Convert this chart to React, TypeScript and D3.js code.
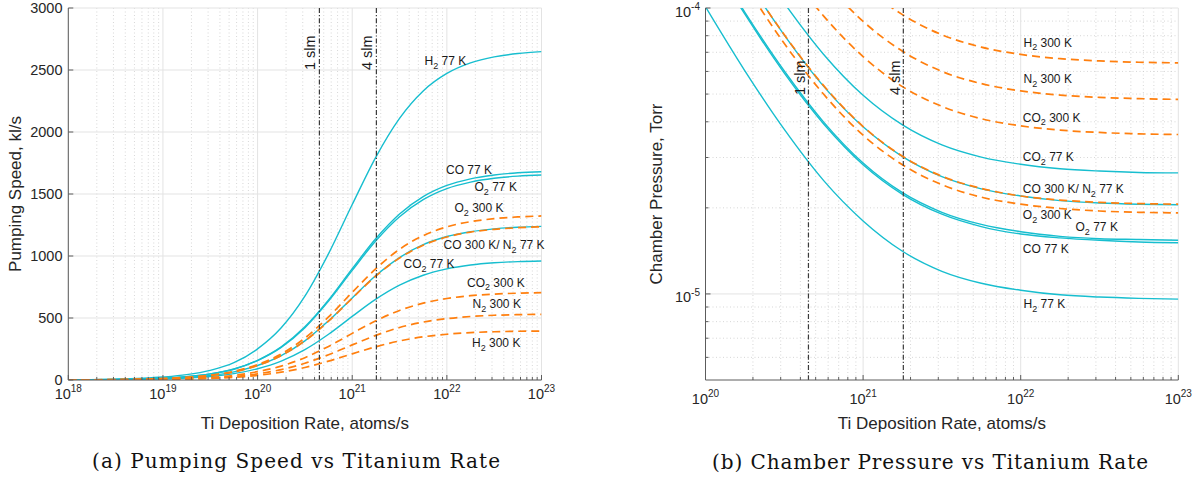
import React from 'react';
import * as d3 from 'd3';

// Ti deposition rate samples, atoms/s
const ratesA = [1e18, 3.162e18, 1e19, 1.778e19, 3.162e19, 5.623e19, 1e20, 1.778e20, 3.162e20, 5.623e20,
  1e21, 1.778e21, 3.162e21, 5.623e21, 1e22, 1.778e22, 3.162e22, 5.623e22, 1e23];
const ratesB = [1e20, 1.778e20, 3.162e20, 5.623e20, 1e21, 1.778e21, 3.162e21, 5.623e21, 1e22, 1.778e22,
  3.162e22, 5.623e22, 1e23];

// (a) pumping speed, kl/s
const speedH2_77 = [2, 7, 24, 43, 78, 140, 251, 421, 676, 1019, 1415, 1798, 2110, 2331, 2472, 2557, 2606, 2633, 2648];
const speedCO_77 = [1, 5, 15, 27, 49, 89, 159, 267, 429, 646, 898, 1141, 1339, 1479, 1569, 1622, 1653, 1671, 1680];
const speedO2_77 = [1, 4, 15, 27, 49, 87, 157, 263, 422, 636, 884, 1123, 1317, 1455, 1544, 1596, 1627, 1644, 1653];
const speedN2_77 = [1, 3, 11, 20, 36, 66, 117, 197, 316, 477, 662, 842, 987, 1091, 1157, 1196, 1219, 1232, 1239];
const speedCO2_77 = [1, 3, 9, 16, 28, 51, 91, 153, 245, 369, 513, 652, 765, 845, 896, 927, 945, 955, 960];
const speedO2_300 = [1, 4, 12, 22, 39, 70, 125, 210, 338, 509, 707, 898, 1054, 1164, 1235, 1277, 1301, 1315, 1323];
const speedCO_300 = [1, 3, 11, 20, 36, 65, 117, 197, 315, 475, 660, 839, 984, 1087, 1153, 1193, 1215, 1228, 1235];
const speedCO2_300 = [1, 2, 6, 11, 21, 37, 67, 112, 180, 271, 376, 478, 561, 620, 657, 680, 693, 700, 704];
const speedN2_300 = [0, 1, 5, 9, 16, 28, 50, 84, 135, 204, 283, 360, 423, 467, 495, 512, 522, 527, 530];
const speedH2_300 = [0, 1, 4, 6, 12, 21, 37, 63, 101, 152, 211, 268, 315, 348, 369, 382, 389, 393, 395];

// (b) chamber pressure, Torr
const presH2_77 = [1.01e-4, 6.03e-5, 3.76e-5, 2.49e-5, 1.80e-5, 1.41e-5, 1.20e-5, 1.09e-5, 1.03e-5, 9.93e-6, 9.75e-6, 9.65e-6, 9.59e-6];
const presCO_77 = [1.60e-4, 9.51e-5, 5.92e-5, 3.93e-5, 2.83e-5, 2.23e-5, 1.90e-5, 1.72e-5, 1.62e-5, 1.57e-5, 1.54e-5, 1.52e-5, 1.51e-5];
const presO2_77 = [1.62e-4, 9.66e-5, 6.02e-5, 3.99e-5, 2.87e-5, 2.26e-5, 1.93e-5, 1.75e-5, 1.65e-5, 1.59e-5, 1.56e-5, 1.55e-5, 1.54e-5];
const presN2_77 = [2.17e-4, 1.29e-4, 8.04e-5, 5.32e-5, 3.84e-5, 3.02e-5, 2.57e-5, 2.33e-5, 2.20e-5, 2.12e-5, 2.08e-5, 2.06e-5, 2.05e-5];
const presCO2_77 = [2.79e-4, 1.66e-4, 1.04e-4, 6.88e-5, 4.95e-5, 3.90e-5, 3.32e-5, 3.01e-5, 2.84e-5, 2.74e-5, 2.69e-5, 2.66e-5, 2.65e-5];
const presO2_300 = [2.03e-4, 1.21e-4, 7.51e-5, 4.99e-5, 3.59e-5, 2.83e-5, 2.41e-5, 2.18e-5, 2.06e-5, 1.99e-5, 1.95e-5, 1.93e-5, 1.92e-5];
const presCO_300 = [2.17e-4, 1.29e-4, 8.06e-5, 5.35e-5, 3.85e-5, 3.03e-5, 2.58e-5, 2.34e-5, 2.20e-5, 2.13e-5, 2.09e-5, 2.07e-5, 2.06e-5];
const presCO2_300 = [3.79e-4, 2.27e-4, 1.41e-4, 9.37e-5, 6.76e-5, 5.31e-5, 4.53e-5, 4.10e-5, 3.87e-5, 3.74e-5, 3.67e-5, 3.63e-5, 3.61e-5];
const presN2_300 = [5.08e-4, 3.02e-4, 1.88e-4, 1.25e-4, 8.98e-5, 7.06e-5, 6.00e-5, 5.44e-5, 5.13e-5, 4.96e-5, 4.87e-5, 4.82e-5, 4.79e-5];
const presH2_300 = [6.86e-4, 4.03e-4, 2.52e-4, 1.67e-4, 1.20e-4, 9.48e-5, 8.06e-5, 7.30e-5, 6.88e-5, 6.65e-5, 6.53e-5, 6.46e-5, 6.43e-5];

// ticks
const xTicksA = [1e18, 1e19, 1e20, 1e21, 1e22, 1e23];
const yTicksA = [0, 500, 1000, 1500, 2000, 2500, 3000];
const xTicksB = [1e20, 1e21, 1e22, 1e23];
const yTicksB = [1e-5, 1e-4];

// flow markers
const slmRates = [4.5e20, 1.8e21];
const slmLabels = ['1 slm', '4 slm'];

const CYAN = '#17becf';
const ORANGE = '#ff7f0e';
const SANS = "'Liberation Sans', Arial, Helvetica, sans-serif";
const SERIF = "'DejaVu Serif', 'Liberation Serif', serif";

const seriesA = [
  { v: speedH2_77, hot: false }, { v: speedCO_77, hot: false }, { v: speedO2_77, hot: false },
  { v: speedN2_77, hot: false }, { v: speedCO2_77, hot: false },
  { v: speedO2_300, hot: true }, { v: speedCO_300, hot: true }, { v: speedCO2_300, hot: true },
  { v: speedN2_300, hot: true }, { v: speedH2_300, hot: true },
];
const seriesB = [
  { v: presH2_77, hot: false }, { v: presCO_77, hot: false }, { v: presO2_77, hot: false },
  { v: presN2_77, hot: false }, { v: presCO2_77, hot: false },
  { v: presO2_300, hot: true }, { v: presCO_300, hot: true }, { v: presCO2_300, hot: true },
  { v: presN2_300, hot: true }, { v: presH2_300, hot: true },
];

type Seg = [string, number?];
const H2_77: Seg[] = [['H'], ['2', 1], [' 77 K']];
const CO_77: Seg[] = [['CO 77 K']];
const O2_77: Seg[] = [['O'], ['2', 1], [' 77 K']];
const O2_300: Seg[] = [['O'], ['2', 1], [' 300 K']];
const CO_N2: Seg[] = [['CO 300 K/ N'], ['2', 1], [' 77 K']];
const CO2_77: Seg[] = [['CO'], ['2', 1], [' 77 K']];
const CO2_300: Seg[] = [['CO'], ['2', 1], [' 300 K']];
const N2_300: Seg[] = [['N'], ['2', 1], [' 300 K']];
const H2_300: Seg[] = [['H'], ['2', 1], [' 300 K']];

const minorLog = (lo: number, hi: number) => {
  const out: number[] = [];
  for (let e = lo; e < hi; e++) for (let k = 2; k <= 9; k++) out.push(k * Math.pow(10, e));
  return out;
};

const Label = ({ segs, x, y }: { segs: Seg[]; x: number; y: number }) => {
  let shift = 0;
  return (
    <text x={x} y={y} fontSize={12} fill="#1a1a1a" fontFamily={SANS}>
      {segs.map(([s, sub], i) => {
        const target = sub ? 3.5 : 0;
        const dy = target - shift;
        shift = target;
        return (
          <tspan key={i} dy={dy} fontSize={sub ? 9 : 12}>{s}</tspan>
        );
      })}
    </text>
  );
};

const GRID = '#e3e3e3';
const MINOR = '#cdcdcd';
const AXIS = '#5c5c5c';
const TXT = '#262626';

export default function App() {
  const xA = d3.scaleLog().domain([1e18, 1e23]).range([68.3, 541.5]);
  const yA = d3.scaleLinear().domain([0, 3000]).range([380, 8]);
  const xB = d3.scaleLog().domain([1e20, 1e23]).range([705.5, 1178.3]);
  const yB = d3.scaleLog().domain([5e-6, 1e-4]).range([380, 8]);

  const lineA = d3.line<number>().x((_, i) => xA(ratesA[i])).y((d) => yA(d)).curve(d3.curveMonotoneX);
  const lineB = d3.line<number>().x((_, i) => xB(ratesB[i])).y((d) => yB(d)).curve(d3.curveMonotoneX);

  const [a0, a1] = xA.range();
  const [b0, b1] = xB.range();
  const top = 8, bot = 380;

  const minorXA = minorLog(18, 23);
  const minorXB = minorLog(20, 23);
  const minorYB = minorLog(-6, -4).filter((v) => v > 5e-6);

  const ordered = <T extends { hot: boolean }>(s: T[]) => [...s.filter((d) => !d.hot), ...s.filter((d) => d.hot)];

  return (
    <svg width={1199} height={480} style={{ position: 'absolute', left: 0, top: 0, background: '#fff' }}>
      <defs>
        <clipPath id="clipA"><rect x={a0} y={top} width={a1 - a0} height={bot - top} /></clipPath>
        <clipPath id="clipB"><rect x={b0} y={top} width={b1 - b0} height={bot - top} /></clipPath>
      </defs>

      {/* ---------- panel (a) ---------- */}
      <g>
        {minorXA.map((v) => (
          <line key={'ma' + v} x1={xA(v)} x2={xA(v)} y1={top} y2={bot} stroke={MINOR} strokeWidth={0.8} strokeDasharray="1,2.5" />
        ))}
        {xTicksA.map((v) => (
          <line key={'ga' + v} x1={xA(v)} x2={xA(v)} y1={top} y2={bot} stroke={GRID} strokeWidth={1} />
        ))}
        {yTicksA.map((v) => (
          <line key={'gya' + v} x1={a0} x2={a1} y1={yA(v)} y2={yA(v)} stroke={GRID} strokeWidth={1} />
        ))}

        <g clipPath="url(#clipA)">
          {ordered(seriesA).map((s, i) => (
            <path key={i} d={lineA(s.v) || ''} fill="none" stroke={s.hot ? ORANGE : CYAN}
              strokeWidth={s.hot ? 1.7 : 1.4} strokeDasharray={s.hot ? '8,5' : undefined} />
          ))}
        </g>

        {slmRates.map((r) => (
          <line key={'sa' + r} x1={xA(r)} x2={xA(r)} y1={top} y2={bot} stroke="#3a3a3a" strokeWidth={1.2} strokeDasharray="5,2,1.2,2" />
        ))}
        {slmRates.map((r, i) => (
          <text key={'sla' + r} transform={`translate(${xA(r) - 4.5},70) rotate(-90)`} fontSize={14.5} fill="#1a1a1a" fontFamily={SANS}>
            {slmLabels[i]}
          </text>
        ))}

        <Label segs={H2_77} x={424.5} y={65} />
        <Label segs={CO_77} x={446} y={173.5} />
        <Label segs={O2_77} x={474.5} y={191} />
        <Label segs={O2_300} x={454.5} y={212.3} />
        <Label segs={CO_N2} x={443.5} y={249} />
        <Label segs={CO2_77} x={403.5} y={268.3} />
        <Label segs={CO2_300} x={467} y={286.7} />
        <Label segs={N2_300} x={472.5} y={308.3} />
        <Label segs={H2_300} x={472} y={347.3} />

        {/* axes */}
        <line x1={a0} x2={a0} y1={top} y2={bot} stroke={AXIS} strokeWidth={1} />
        <line x1={a0} x2={a1} y1={bot} y2={bot} stroke={AXIS} strokeWidth={1} />
        {yTicksA.map((v) => (
          <g key={'ty' + v}>
            <line x1={a0} x2={a0 + 5} y1={yA(v)} y2={yA(v)} stroke={AXIS} />
            <text x={62.5} y={yA(v) + 5.3} textAnchor="end" fontSize={14.5} fill={TXT} fontFamily={SANS}>{v}</text>
          </g>
        ))}
        {minorXA.map((v) => (
          <line key={'tma' + v} x1={xA(v)} x2={xA(v)} y1={bot} y2={bot - 3} stroke={AXIS} />
        ))}
        {xTicksA.map((v) => (
          <g key={'tx' + v}>
            <line x1={xA(v)} x2={xA(v)} y1={bot} y2={bot - 5} stroke={AXIS} />
            <text x={xA(v)} y={399} textAnchor="middle" fontSize={14.5} fill={TXT} fontFamily={SANS}>
              10<tspan dy={-7} fontSize={10}>{Math.round(Math.log10(v))}</tspan>
            </text>
          </g>
        ))}
        <text x={(a0 + a1) / 2} y={429} textAnchor="middle" fontSize={17} fill={TXT} fontFamily={SANS}>
          Ti Deposition Rate, atoms/s
        </text>
        <text transform={`translate(20.5,${(top + bot) / 2}) rotate(-90)`} textAnchor="middle" fontSize={17} fill={TXT} fontFamily={SANS}>
          Pumping Speed, kl/s
        </text>
        <text x={296} y={468} textAnchor="middle" fontSize={20} fill="#111" fontFamily={SERIF}
          textLength={408} lengthAdjust="spacing">
          (a) Pumping Speed vs Titanium Rate
        </text>
      </g>

      {/* ---------- panel (b) ---------- */}
      <g>
        {minorXB.map((v) => (
          <line key={'mb' + v} x1={xB(v)} x2={xB(v)} y1={top} y2={bot} stroke={MINOR} strokeWidth={0.8} strokeDasharray="1,2.5" />
        ))}
        {minorYB.map((v) => (
          <line key={'myb' + v} x1={b0} x2={b1} y1={yB(v)} y2={yB(v)} stroke={MINOR} strokeWidth={0.8} strokeDasharray="1,2.5" />
        ))}
        {xTicksB.map((v) => (
          <line key={'gb' + v} x1={xB(v)} x2={xB(v)} y1={top} y2={bot} stroke={GRID} strokeWidth={1} />
        ))}
        {yTicksB.map((v) => (
          <line key={'gyb' + v} x1={b0} x2={b1} y1={yB(v)} y2={yB(v)} stroke={GRID} strokeWidth={1} />
        ))}

        <g clipPath="url(#clipB)">
          {ordered(seriesB).map((s, i) => (
            <path key={i} d={lineB(s.v) || ''} fill="none" stroke={s.hot ? ORANGE : CYAN}
              strokeWidth={s.hot ? 1.7 : 1.4} strokeDasharray={s.hot ? '8,5' : undefined} />
          ))}
        </g>

        {slmRates.map((r) => (
          <line key={'sb' + r} x1={xB(r)} x2={xB(r)} y1={top} y2={bot} stroke="#3a3a3a" strokeWidth={1.2} strokeDasharray="5,2,1.2,2" />
        ))}
        {slmRates.map((r, i) => (
          <text key={'slb' + r} transform={`translate(${xB(r) - 3},95) rotate(-90)`} fontSize={14.5} fill="#1a1a1a" fontFamily={SANS}>
            {slmLabels[i]}
          </text>
        ))}

        <Label segs={H2_300} x={1023.5} y={46.7} />
        <Label segs={N2_300} x={1023.5} y={83.3} />
        <Label segs={CO2_300} x={1022.8} y={121.7} />
        <Label segs={CO2_77} x={1022.8} y={161} />
        <Label segs={CO_N2} x={1022.8} y={193.3} />
        <Label segs={O2_300} x={1022.8} y={219.3} />
        <Label segs={O2_77} x={1075.5} y={231} />
        <Label segs={CO_77} x={1022.8} y={252.7} />
        <Label segs={H2_77} x={1023.5} y={308.3} />

        {/* axes */}
        <line x1={b0} x2={b0} y1={top} y2={bot} stroke={AXIS} strokeWidth={1} />
        <line x1={b0} x2={b1} y1={bot} y2={bot} stroke={AXIS} strokeWidth={1} />
        {minorYB.map((v) => (
          <line key={'tmyb' + v} x1={b0} x2={b0 + 3} y1={yB(v)} y2={yB(v)} stroke={AXIS} />
        ))}
        {yTicksB.map((v) => (
          <g key={'tyb' + v}>
            <line x1={b0} x2={b0 + 5} y1={yB(v)} y2={yB(v)} stroke={AXIS} />
            <text x={700} y={yB(v) + 8.5} textAnchor="end" fontSize={14.5} fill={TXT} fontFamily={SANS}>
              10<tspan dy={-6.5} fontSize={10}>{Math.round(Math.log10(v))}</tspan>
            </text>
          </g>
        ))}
        {minorXB.map((v) => (
          <line key={'tmb' + v} x1={xB(v)} x2={xB(v)} y1={bot} y2={bot - 3} stroke={AXIS} />
        ))}
        {xTicksB.map((v) => (
          <g key={'txb' + v}>
            <line x1={xB(v)} x2={xB(v)} y1={bot} y2={bot - 5} stroke={AXIS} />
            <text x={xB(v)} y={403.5} textAnchor="middle" fontSize={14.5} fill={TXT} fontFamily={SANS}>
              10<tspan dy={-7} fontSize={10}>{Math.round(Math.log10(v))}</tspan>
            </text>
          </g>
        ))}
        <text x={(b0 + b1) / 2} y={429} textAnchor="middle" fontSize={17} fill={TXT} fontFamily={SANS}>
          Ti Deposition Rate, atoms/s
        </text>
        <text transform={`translate(662,${(top + bot) / 2}) rotate(-90)`} textAnchor="middle" fontSize={17} fill={TXT} fontFamily={SANS}>
          Chamber Pressure, Torr
        </text>
        <text x={930} y={469} textAnchor="middle" fontSize={20} fill="#111" fontFamily={SERIF}
          textLength={436} lengthAdjust="spacing">
          (b) Chamber Pressure vs Titanium Rate
        </text>
      </g>
    </svg>
  );
}
